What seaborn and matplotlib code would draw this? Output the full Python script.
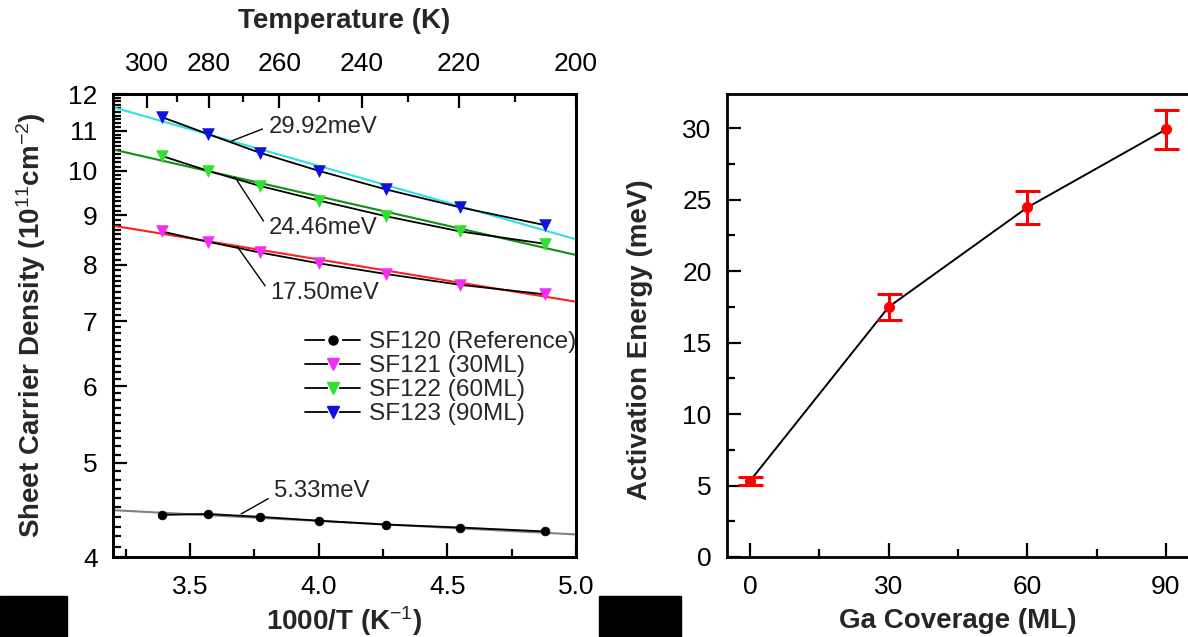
import numpy as np
import pandas as pd
import matplotlib
matplotlib.use("Agg")
import matplotlib.pyplot as plt
import seaborn as sns
from matplotlib.ticker import FixedLocator, FixedFormatter, NullFormatter
from matplotlib.lines import Line2D
from matplotlib.patches import Rectangle
from matplotlib.legend_handler import HandlerTuple

# ---------------- data ----------------
inv_T = [3.39, 3.57, 3.77, 4.00, 4.26, 4.55, 4.88]          # 1000/T (1/K)
sf120 = [4.42, 4.43, 4.40, 4.36, 4.32, 4.29, 4.25]
sf121 = [8.66, 8.45, 8.24, 8.03, 7.83, 7.63, 7.46]
sf122 = [10.36, 10.00, 9.65, 9.32, 8.98, 8.66, 8.41]
sf123 = [11.36, 10.91, 10.44, 10.00, 9.57, 9.17, 8.79]

fit_x = [3.2, 5.0]
fit120 = [4.47, 4.22]
fit121 = [8.78, 7.33]
fit122 = [10.52, 8.19]
fit123 = [11.63, 8.50]

series_labels = ["SF120 (Reference)", "SF121 (30ML)", "SF122 (60ML)", "SF123 (90ML)"]
ea_labels = ["5.33meV", "17.50meV", "24.46meV", "29.92meV"]

temp_major = [300, 280, 260, 240, 220, 200]
temp_minor = [290, 270, 250, 230, 210]
left_y_major = [4, 5, 6, 7, 8, 9, 10, 11, 12]
bottom_x_major = [3.5, 4.0, 4.5, 5.0]
bottom_x_minor = [3.25, 3.75, 4.25, 4.75]

coverage = [0, 30, 60, 90]
act_energy = [5.33, 17.50, 24.46, 29.92]
act_err = [0.30, 0.90, 1.15, 1.37]

# ---------------- style ----------------
sns.set_theme(style="ticks")
plt.rcParams["font.family"] = ["Liberation Sans", "DejaVu Sans"]
plt.rcParams["mathtext.fontset"] = "custom"
plt.rcParams["mathtext.rm"] = "Liberation Sans"
plt.rcParams["mathtext.it"] = "Liberation Sans:italic"
plt.rcParams["mathtext.bf"] = "Liberation Sans:bold"
plt.rcParams["axes.edgecolor"] = "black"
plt.rcParams["axes.linewidth"] = 2.0
plt.rcParams["xtick.color"] = "black"
plt.rcParams["ytick.color"] = "black"

TICK_FS = 19
LAB_FS = 20
ANN_FS = 17.2
LEG_FS = 17.6

W, H = 1188, 637
fig = plt.figure(figsize=(W / 100, H / 100), dpi=100)
fig.patch.set_facecolor("white")

ax1 = fig.add_axes([113 / W, 80 / H, 463 / W, 463 / H])
ax2 = fig.add_axes([727 / W, 80 / H, 462 / W, 463 / H])

# ---------------- left panel ----------------
fit_colors = ["#808080", "#ff2020", "#109010", "#30e0e0"]
mark_colors = ["black", "#f030f0", "#30e030", "#1010e0"]
markers = ["o", "v", "v", "v"]
series = [sf120, sf121, sf122, sf123]
fits = [fit120, fit121, fit122, fit123]

for vals, fit, fc, mc, mk in zip(series, fits, fit_colors, mark_colors, markers):
    sns.lineplot(x=fit_x, y=fit, color=fc, lw=1.5, ax=ax1, zorder=2)
    sns.lineplot(x=inv_T, y=vals, color="black", lw=1.3, ax=ax1, zorder=3)
    sns.scatterplot(x=inv_T, y=vals, marker=mk, color=mc, edgecolor=mc,
                    s=70 if mk == "v" else 40, linewidth=0.5, ax=ax1, zorder=4)

ax1.set_yscale("log")
ax1.set_xlim(3.2, 5.0)
ax1.set_ylim(4, 12)
ax1.yaxis.set_major_locator(FixedLocator(left_y_major))
ax1.yaxis.set_major_formatter(FixedFormatter([str(v) for v in left_y_major]))
minor_y = [round(4 + 0.1 * i, 1) for i in range(81)]
minor_y = [v for v in minor_y if abs(v - round(v)) > 1e-6]
ax1.yaxis.set_minor_locator(FixedLocator(minor_y))
ax1.yaxis.set_minor_formatter(NullFormatter())
ax1.xaxis.set_major_locator(FixedLocator(bottom_x_major))
ax1.xaxis.set_major_formatter(FixedFormatter(["%.1f" % v for v in bottom_x_major]))
ax1.xaxis.set_minor_locator(FixedLocator(bottom_x_minor))

for ax in (ax1, ax2):
    ax.tick_params(which="major", direction="in", length=10, width=1.6,
                   labelsize=TICK_FS, pad=11)
    ax.tick_params(which="minor", direction="in", length=5.5, width=1.6)
    ax.tick_params(axis="x", which="major", pad=13)
    ax.tick_params(top=False, right=False, which="both")

ax1t = ax1.twiny()
ax1t.set_xlim(ax1.get_xlim())
ax1t.xaxis.set_major_locator(FixedLocator([1000.0 / t for t in temp_major]))
ax1t.xaxis.set_major_formatter(FixedFormatter([str(t) for t in temp_major]))
ax1t.xaxis.set_minor_locator(FixedLocator([1000.0 / t for t in temp_minor]))
ax1t.tick_params(which="major", direction="in", length=10, width=1.6,
                 labelsize=TICK_FS, pad=13)
ax1t.tick_params(which="minor", direction="in", length=5.5, width=1.6)
ax1t.set_xlabel("Temperature (K)", fontsize=LAB_FS, fontweight="bold", va="center")
ax1t.xaxis.set_label_coords(0.5, 1.158)

ax1.set_xlabel("1000/T (K$^{\\mathrm{-1}}$)", fontsize=LAB_FS, fontweight="bold", va="center")
ax1.xaxis.set_label_coords(0.5, -0.138)
ax1.set_ylabel("Sheet Carrier Density (10$^{\\mathrm{11}}$cm$^{\\mathrm{-2}}$)",
               fontsize=LAB_FS, fontweight="bold", va="center")
ax1.yaxis.set_label_coords(-0.176, 0.5)

# annotations (positions in axes fraction)
ann_pos = {
    "29.92meV": ((0.2564, 0.8985), (0.3354, 0.9294), (0, 0.5)),
    "24.46meV": ((0.2635, 0.8201), (0.3354, 0.7099), (0, 0.5)),
    "17.50meV": ((0.2685, 0.6702), (0.3391, 0.5708), (0, 0.5)),
    "5.33meV": ((0.2765, 0.0929), (0.3477, 0.1425), (0, 0.3)),
}
for lab in ea_labels:
    xy, xyt, rp = ann_pos[lab]
    ax1.annotate(lab, xy=xy, xycoords="axes fraction", xytext=xyt,
                 textcoords="axes fraction", fontsize=ANN_FS, ha="left", va="center",
                 arrowprops=dict(arrowstyle="-", color="black", lw=1.0,
                                 shrinkA=2, shrinkB=0, relpos=rp))

# legend handles "—▼—": black line, white halo gap, coloured symbol
handles = []
for mk, mc in zip(markers, mark_colors):
    ms = 8.5 if mk == "v" else 6.5
    line = Line2D([0], [0], color="black", lw=1.3)
    halo = Line2D([0], [0], lw=0, marker=mk, markersize=ms + 5,
                  markerfacecolor="white", markeredgecolor="white")
    sym = Line2D([0], [0], lw=0, marker=mk, markersize=ms,
                 markerfacecolor=mc, markeredgecolor=mc)
    handles.append((line, halo, sym))
ax1.legend(handles, series_labels, loc="upper left", bbox_to_anchor=(0.415, 0.488),
           frameon=False, fontsize=LEG_FS, handlelength=2.25, handletextpad=0.35,
           labelspacing=0.08, borderpad=0, borderaxespad=0,
           handler_map={tuple: HandlerTuple(ndivide=1)})

# ---------------- right panel ----------------
sns.lineplot(x=coverage, y=act_energy, color="black", lw=1.4, ax=ax2, zorder=2)
ax2.errorbar(coverage, act_energy, yerr=act_err, fmt="o", color="#ff0000", ms=7,
             capsize=9, elinewidth=2.2, capthick=2.2, zorder=3)
ax2.set_xlim(-5, 95)
ax2.set_ylim(0, 32.4)
ax2.xaxis.set_major_locator(FixedLocator([0, 30, 60, 90]))
ax2.xaxis.set_minor_locator(FixedLocator([15, 45, 75]))
ax2.yaxis.set_major_locator(FixedLocator([0, 5, 10, 15, 20, 25, 30]))
ax2.yaxis.set_minor_locator(FixedLocator([2.5, 7.5, 12.5, 17.5, 22.5, 27.5]))
ax2.set_xlabel("Ga Coverage (ML)", fontsize=LAB_FS, fontweight="bold", va="center")
ax2.xaxis.set_label_coords(0.5, -0.138)
ax2.set_ylabel("Activation Energy (meV)", fontsize=LAB_FS, fontweight="bold", va="center")
ax2.yaxis.set_label_coords(-0.188, 0.47)

# redaction boxes present in the reference
fig.add_artist(Rectangle((0, 0), 67 / W, 41 / H, transform=fig.transFigure,
                         color="black", zorder=10))
fig.add_artist(Rectangle((599 / W, 0), 82 / W, 41 / H, transform=fig.transFigure,
                         color="black", zorder=10))

fig.savefig("out.png", dpi=100)
